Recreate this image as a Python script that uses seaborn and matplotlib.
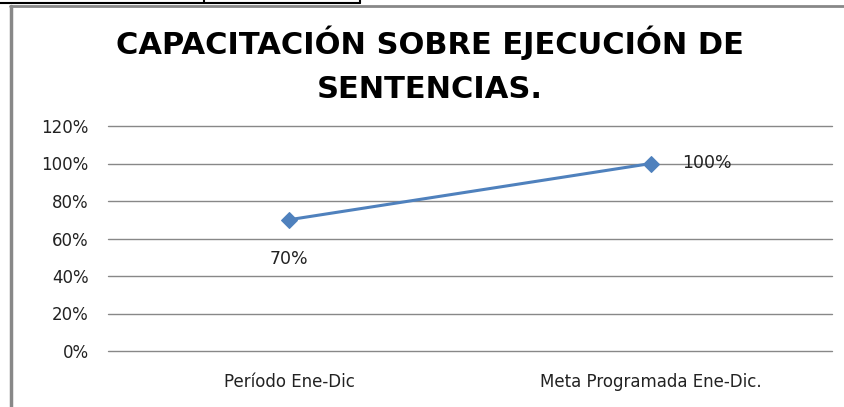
import matplotlib
matplotlib.use("Agg")
import matplotlib.pyplot as plt
import seaborn as sns
import pandas as pd
from matplotlib.lines import Line2D

# data
categorias = ["Período Ene-Dic", "Meta Programada Ene-Dic."]
valores = [0.70, 1.00]
etiquetas = ["70%", "100%"]
yticks = [0, 0.2, 0.4, 0.6, 0.8, 1.0, 1.2]
ytick_labels = ["0%", "20%", "40%", "60%", "80%", "100%", "120%"]

df = pd.DataFrame({"periodo": categorias, "valor": valores})

sns.set_style("white")
plt.rcParams["font.family"] = ["DejaVu Sans"]

W, H = 844, 407
fig = plt.figure(figsize=(W / 100, H / 100), dpi=100)
ax = fig.add_axes([108 / W, 1 - 351 / H, (832 - 108) / W, (351 - 126) / H])

sns.lineplot(data=df, x="periodo", y="valor", ax=ax, color="#4F81BD",
             linewidth=2.2, marker="D", markersize=8, markeredgecolor="#4F81BD",
             sort=False)

ax.set_xlim(-0.5, 1.5)
ax.set_ylim(0, 1.2)
ax.set_yticks(yticks)
ax.set_yticklabels(ytick_labels, fontsize=12, color="#222222")
ax.set_xticks(range(len(categorias)))
ax.set_xticklabels(categorias, fontsize=12, color="#222222")
ax.tick_params(axis="y", length=0, pad=14)
ax.tick_params(axis="x", length=0, pad=16)
ax.yaxis.grid(True, color="#888888", linewidth=1)
for gl in ax.get_ygridlines():
    gl.set_clip_on(False)
ax.set_axisbelow(True)
for s in ax.spines.values():
    s.set_visible(False)
ax.set_xlabel("")
ax.set_ylabel("")

# data labels
ax.annotate(etiquetas[0], (0, valores[0]), xytext=(0, -28), textcoords="offset points",
            ha="center", va="center", fontsize=12.5, color="#222222")
ax.annotate(etiquetas[1], (1, valores[1]), xytext=(40, 0), textcoords="offset points",
            ha="center", va="center", fontsize=12.5, color="#222222")

# title
fig.text(430 / W, 1 - 54 / H, "CAPACITACIÓN SOBRE EJECUCIÓN DE", ha="center", va="baseline",
         fontsize=22, fontweight="bold", color="black")
fig.text(430 / W, 1 - 98 / H, "SENTENCIAS.", ha="center", va="baseline",
         fontsize=22, fontweight="bold", color="black")

# frame lines
def px_line(x0, y0, x1, y1, color, lw):
    fig.add_artist(Line2D([x0 / W, x1 / W], [1 - y0 / H, 1 - y1 / H],
                          color=color, linewidth=lw, transform=fig.transFigure))

px_line(10, 6, W, 6, "#888888", 2)
px_line(11, 6, 11, H, "#888888", 2.5)
px_line(0, 3, 360, 3, "black", 1.5)
px_line(204, 0, 204, 3, "black", 1.5)
px_line(360, 0, 360, 3, "black", 1.5)

fig.savefig("out.png", dpi=100)
